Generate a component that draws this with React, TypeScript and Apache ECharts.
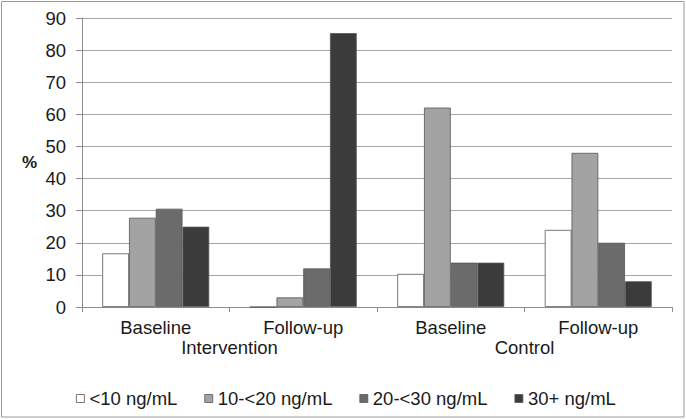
import React, { useEffect, useRef } from "react";
import * as echarts from "echarts";

const categories = ["Baseline", "Follow-up", "Baseline", "Follow-up"];
const groups = ["Intervention", "Control"];
const seriesNames = ["<10 ng/mL", "10-<20 ng/mL", "20-<30 ng/mL", "30+ ng/mL"];
const lt10 = [16.7, 0, 10.3, 24];
const s10to20 = [27.8, 3, 62.1, 48];
const s20to30 = [30.6, 12, 13.8, 20];
const s30plus = [25, 85.3, 13.8, 8];
const colors = ["#ffffff", "#a3a3a3", "#6b6b6b", "#3b3b3b"];
const yTicks = { min: 0, max: 90, interval: 10 };

export default function App() {
  const ref = useRef<HTMLDivElement>(null);
  useEffect(() => {
    document.body.style.margin = "0";
    const chart = echarts.init(ref.current!, undefined, { renderer: "svg" });
    const font = "'Liberation Sans', Arial, sans-serif";
    const values = [lt10, s10to20, s20to30, s30plus];
    chart.setOption({
      animation: false,
      textStyle: { fontFamily: font, color: "#1a1a1a" },
      grid: { left: 82, right: 14, top: 18, bottom: 112 },
      legend: {
        left: 71,
        top: 384,
        itemWidth: 8,
        itemHeight: 8,
        itemGap: 27,
        icon: "rect",
        textStyle: { fontFamily: font, fontSize: 18.5, color: "#1a1a1a" },
        data: seriesNames.map((n) => ({ name: n, itemStyle: { borderColor: "#555", borderWidth: 0.8 } })),
      },
      graphic: [
        {
          type: "rect",
          shape: { x: 1.5, y: 1.5, width: 682.5, height: 415.5 },
          style: { fill: "none", stroke: "#9a9a9a", lineWidth: 1 },
          silent: true,
        },
      ],
      xAxis: [
        {
          type: "category",
          data: categories,
          axisLine: { lineStyle: { color: "#8c8c8c" } },
          axisTick: { show: true, length: 5, interval: 0, lineStyle: { color: "#8c8c8c" } },
          axisLabel: { fontFamily: font, fontSize: 18.5, color: "#1a1a1a", margin: 11, interval: 0 },
        },
        {
          type: "category",
          data: groups,
          position: "bottom",
          axisLine: { show: false },
          axisTick: { show: false },
          axisLabel: { fontFamily: font, fontSize: 18.5, color: "#1a1a1a", margin: 31, interval: 0 },
          splitLine: { show: false },
        },
      ],
      yAxis: {
        type: "value",
        min: yTicks.min,
        max: yTicks.max,
        interval: yTicks.interval,
        name: "%",
        nameLocation: "middle",
        nameRotate: 0,
        nameGap: 45,
        nameTextStyle: { fontFamily: font, fontSize: 17, fontWeight: "bold", color: "#1a1a1a" },
        axisLine: { show: true, lineStyle: { color: "#8c8c8c" } },
        axisTick: { show: true, length: 6, lineStyle: { color: "#8c8c8c" } },
        axisLabel: { fontFamily: font, fontSize: 18.5, color: "#1a1a1a", margin: 16 },
        splitLine: { lineStyle: { color: "#a6a6a6" } },
      },
      series: seriesNames.map((n, i) => ({
        name: n,
        type: "bar",
        data: values[i],
        barGap: "0%",
        barCategoryGap: "27.5%",
        itemStyle: { color: colors[i], borderColor: "#555", borderWidth: 0.8 },
      })),
    });
    return () => chart.dispose();
  }, []);
  return <div ref={ref} style={{ width: 686, height: 419 }} />;
}
